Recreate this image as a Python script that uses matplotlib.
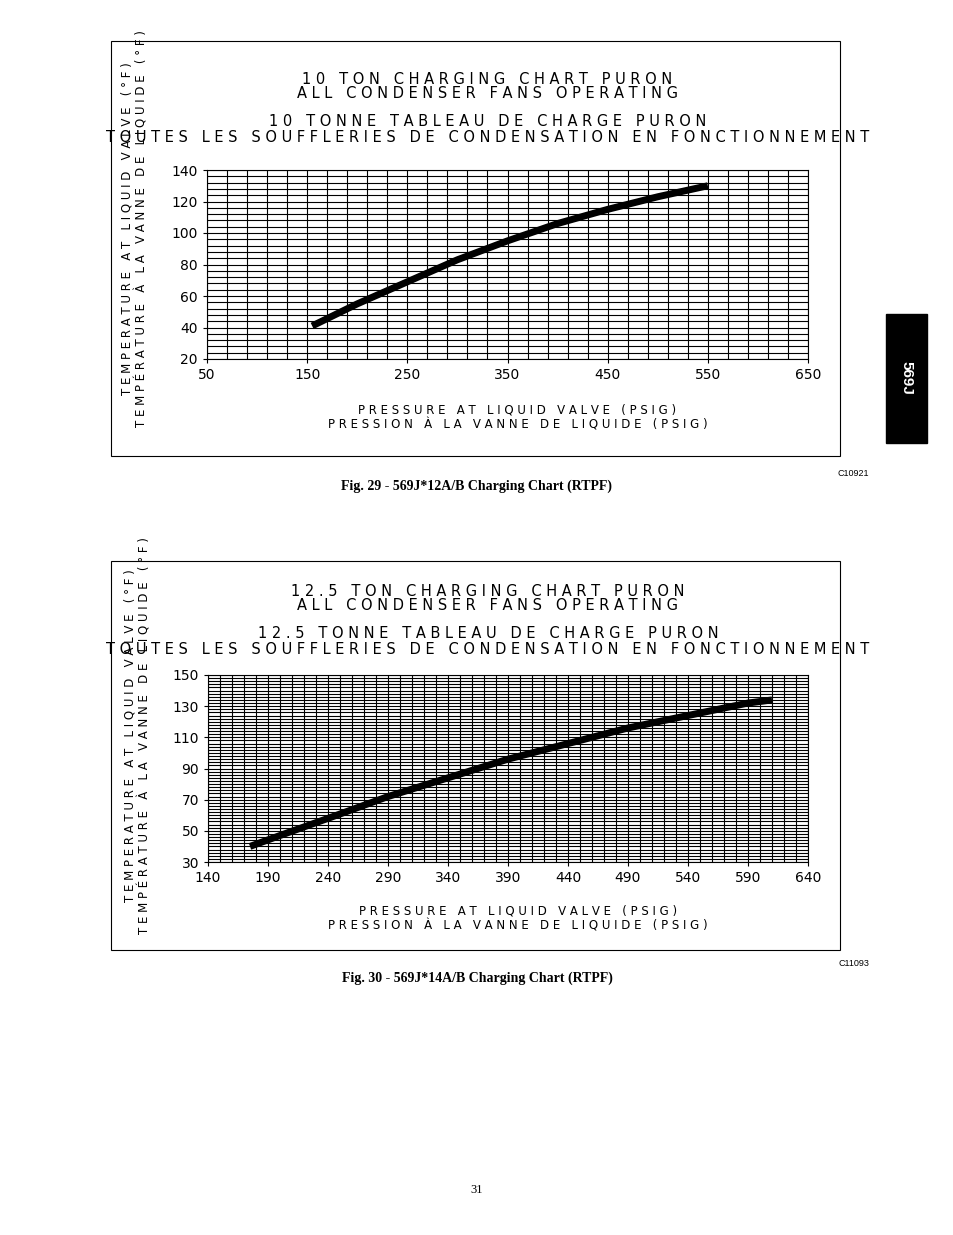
import matplotlib
matplotlib.use("Agg")
import matplotlib.pyplot as plt
from matplotlib.patches import Rectangle
import numpy as np

W, H = 954, 1235
# Chart 1 data
p1 = [155, 200, 250, 300, 350, 400, 450, 500, 550]
t1 = [41, 55, 69, 83, 95, 106, 115, 123, 130]
x1_ticks = [50, 150, 250, 350, 450, 550, 650]
y1_ticks = [20, 40, 60, 80, 100, 120, 140]
# Chart 2 data
p2 = [175, 200, 240, 290, 340, 390, 440, 490, 540, 590, 610]
t2 = [40, 47, 58, 72, 84, 96, 106, 116, 124, 132, 134]
x2_ticks = [140, 190, 240, 290, 340, 390, 440, 490, 540, 590, 640]
y2_ticks = [30, 50, 70, 90, 110, 130, 150]

fig = plt.figure(figsize=(W/100, H/100), dpi=100)
bg = fig.add_axes([0, 0, 1, 1]); bg.set_xlim(0, W); bg.set_ylim(H, 0); bg.axis('off')

def px(x0, y0, x1, y1):
    return [x0/W, 1-y1/H, (x1-x0)/W, (y1-y0)/H]

def spaced(s):
    return s

def chart(box, area, xs, ys, xt, yt, xstep, ystep, titles, tlines_y, xl_y, ylab_x, code, code_y, cap, cap_y):
    bg.add_patch(Rectangle((box[0], box[1]), box[2]-box[0], box[3]-box[1], fill=False, lw=0.8, ec='black'))
    ax = fig.add_axes(px(*area))
    ax.set_xlim(xt[0], xt[-1]); ax.set_ylim(yt[0], yt[-1])
    for v in np.arange(xt[0], xt[-1]+0.1, xstep):
        ax.axvline(v, color='black', lw=0.8)
    for v in np.arange(yt[0], yt[-1]+0.1, ystep):
        ax.axhline(v, color='black', lw=0.8)
    ax.plot(xs, ys, color='black', lw=5, solid_capstyle='butt')
    ax.set_xticks(xt); ax.set_yticks(yt)
    ax.tick_params(labelsize=10, length=3, width=0.8)
    for s in ax.spines.values(): s.set_linewidth(0.8)
    for s, y in zip(titles, tlines_y):
        bg.text((area[0]+area[2])/2 - 20, y, s, ha='center', va='center', fontsize=10.5)
    bg.text((area[0]+area[2])/2 + 10, xl_y, "P R E S S U R E   A T   L I Q U I D   V A L V E   ( P S I G )", ha='center', va='center', fontsize=8.5)
    bg.text((area[0]+area[2])/2 + 10, xl_y+15, "P R E S S I O N   À   L A   V A N N E   D E   L I Q U I D E   ( P S I G )", ha='center', va='center', fontsize=8.5)
    bg.text(ylab_x, (box[1]+box[3])/2 - 20, "T E M P E R A T U R E   A T   L I Q U I D   V A L V E   ( ° F )", rotation=90, ha='center', va='center', fontsize=8.5)
    bg.text(ylab_x+15, (box[1]+box[3])/2 - 20, "T E M P É R A T U R E   À   L A   V A N N E   D E   L I Q U I D E   ( ° F )", rotation=90, ha='center', va='center', fontsize=8.5)
    bg.text(869, code_y, code, ha='right', va='center', fontsize=6.5, family='Liberation Sans')
    bg.text(477, cap_y, cap, ha='center', va='center', fontsize=10, family='Liberation Serif', weight='bold')

chart((111, 41, 840, 456), (207, 170, 808, 359), p1, t1, x1_ticks, y1_ticks, 20, 4,
      ["1 0   T O N   C H A R G I N G   C H A R T   P U R O N", "A L L   C O N D E N S E R   F A N S   O P E R A T I N G",
       "1 0   T O N N E   T A B L E A U   D E   C H A R G E   P U R O N",
       "T O U T E S   L E S   S O U F F L E R I E S   D E   C O N D E N S A T I O N   E N   F O N C T I O N N E M E N T"],
      [79, 94, 122, 137], 410, 127, "C10921", 473, "Fig. 29 - 569J*12A/B Charging Chart (RTPF)", 486)
chart((111, 561, 840, 950), (208, 675, 808, 862), p2, t2, x2_ticks, y2_ticks, 10, 2,
      ["1 2 . 5   T O N   C H A R G I N G   C H A R T   P U R O N", "A L L   C O N D E N S E R   F A N S   O P E R A T I N G",
       "1 2 . 5   T O N N E   T A B L E A U   D E   C H A R G E   P U R O N",
       "T O U T E S   L E S   S O U F F L E R I E S   D E   C O N D E N S A T I O N   E N   F O N C T I O N N E M E N T"],
      [591, 606, 634, 649], 911, 130, "C11093", 964, "Fig. 30 - 569J*14A/B Charging Chart (RTPF)", 978)

bg.add_patch(Rectangle((886, 314), 41, 129, color='black'))
bg.text(906, 378, "569J", rotation=270, color='white', ha='center', va='center', fontsize=11, weight='bold', family='Liberation Sans')
bg.text(477, 1190, "31", ha='center', va='center', fontsize=9, family='Liberation Serif')
fig.savefig("out.png", dpi=100)
